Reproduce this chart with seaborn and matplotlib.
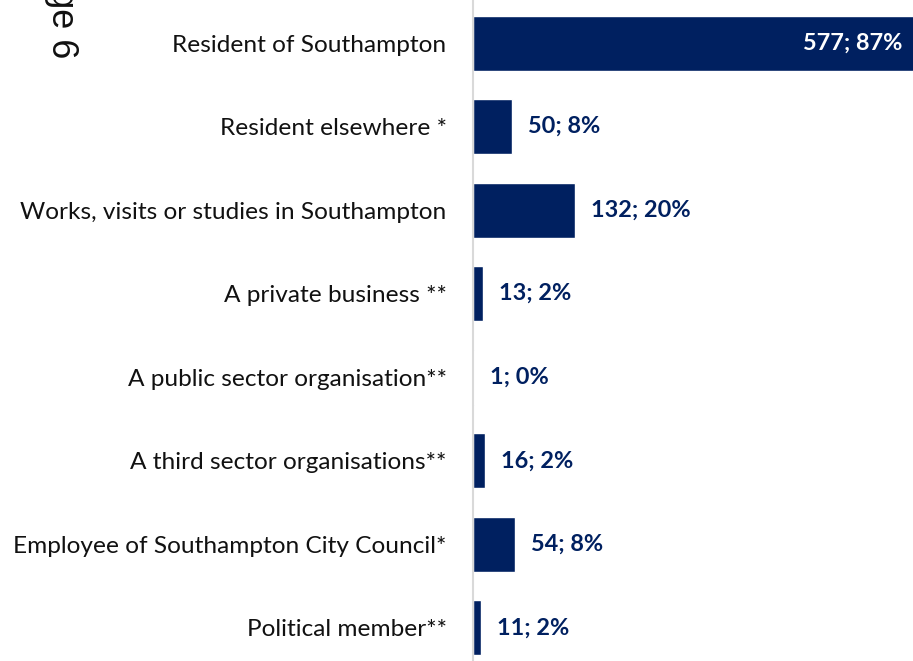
import matplotlib
matplotlib.use("Agg")
import matplotlib.pyplot as plt
import seaborn as sns
import pandas as pd

# data
categories = ["Resident of Southampton", "Resident elsewhere *",
              "Works, visits or studies in Southampton", "A private business **",
              "A public sector organisation**", "A third sector organisations**",
              "Employee of Southampton City Council*", "Political member**"]
counts = [577, 50, 132, 13, 1, 16, 54, 11]
percents = [87, 8, 20, 2, 0, 2, 8, 2]

navy = "#002060"

df = pd.DataFrame({"Category": categories, "Count": counts})

sns.set_style("white")
plt.rcParams['font.family'] = ['Lato', 'DejaVu Sans']

fig = plt.figure(figsize=(9.13, 6.61), dpi=100)
ax = fig.add_axes([0.518, -0.013, 0.482, 1.011])

sns.barplot(data=df, y="Category", x="Count", color=navy, orient="h",
            width=0.66, saturation=1, ax=ax)

ax.set_xlim(0, 569)
ax.set_xlabel(None)
ax.set_ylabel(None)
ax.set_xticks([])
for s in ["top", "right", "bottom"]:
    ax.spines[s].set_visible(False)
ax.spines["left"].set_color("#d9d9d9")
ax.spines["left"].set_linewidth(1.5)
ax.tick_params(axis="y", length=0, pad=19, labelsize=17.6, labelcolor="#111111")

# value labels, the first one inside the bar
for i, (c, p) in enumerate(zip(counts, percents)):
    txt = f"{c}; {p}%"
    if i == 0:
        ax.annotate(txt, xy=(1, i), xycoords=("axes fraction", "data"),
                    xytext=(-8, 0), textcoords="offset points",
                    ha="right", va="center", color="white",
                    fontsize=16.9, fontweight="bold")
    else:
        ax.annotate(txt, xy=(c, i), xytext=(11.5, 0), textcoords="offset points",
                    ha="left", va="center", color=navy,
                    fontsize=16.9, fontweight="bold")

# page number artefact at the top left (cut off like in the original)
fig.text(0.067, 0.912, "Page 6", rotation=270, ha="center", va="bottom",
         fontsize=26, family=["Liberation Sans", "DejaVu Sans"], color="#111111")

fig.savefig("out.png", dpi=100)
